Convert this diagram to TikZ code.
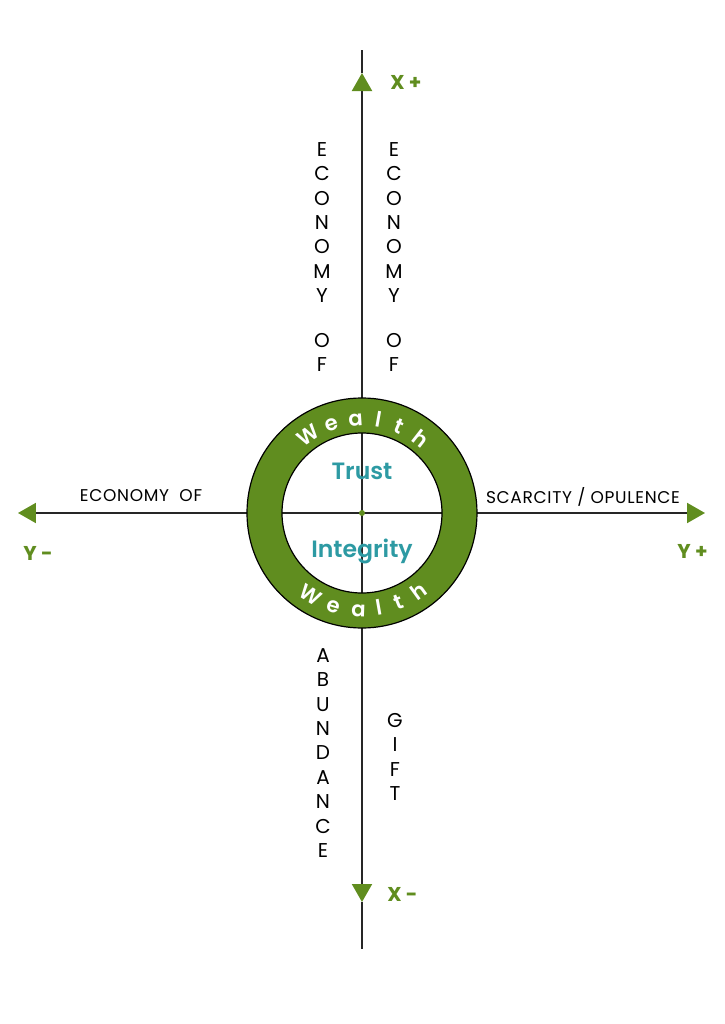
\documentclass[tikz,border=0pt]{standalone}
\usepackage{fontspec}
\setmainfont{Poppins}
\newfontfamily\semifont{Poppins SemiBold}
\usetikzlibrary{arrows.meta}
\definecolor{leaf}{RGB}{96,141,31}
\definecolor{trustblue}{RGB}{45,154,163}

\begin{document}
\begin{tikzpicture}[
        x=0.5pt, y=0.5pt,
        axis/.style={line width=1pt, draw=black!85},
        tip/.style={-{Triangle[length=9pt, width=10pt, color=leaf]}},
        sign/.style={font=\bfseries\fontsize{10}{12}\selectfont, text=leaf, inner sep=0pt},
        hlabel/.style={font=\fontsize{8.5}{10}\selectfont\addfontfeature{LetterSpace=4}, text=black, inner sep=0pt, anchor=base},
        vlabel/.style={font=\fontsize{10}{12.2}\selectfont, text=black, align=center, inner sep=0pt},
        core/.style={font=\semifont\fontsize{11.8}{14}\selectfont, text=trustblue, inner sep=0pt, anchor=base},
        ringtxt/.style={font=\semifont\fontsize{10.6}{13}\selectfont, text=white, inner sep=0pt, anchor=base}
    ]
    \useasboundingbox (-362,-511) rectangle (362,513);

    % axes
    \coordinate (o) at (0,0);
    \coordinate (xtop) at (0,463);
    \coordinate (xp) at (0,440);
    \coordinate (xbot) at (0,-436);
    \coordinate (xm) at (0,-389);
    \coordinate (ym) at (-344,0);
    \coordinate (yp) at (343,0);

    \draw[axis, tip] (o) -- (xp);
    \draw[axis] (xp) -- (xtop);
    \draw[axis, tip] (o) -- (xm);
    \draw[axis] (xm) -- (xbot);
    \draw[axis, tip] (o) -- (ym);
    \draw[axis, tip] (o) -- (yp);

    % ring
    \fill[leaf, even odd rule] (o) circle[radius=115] (o) circle[radius=80];
    \draw[line width=0.6pt] (o) circle[radius=115] (o) circle[radius=80];
    \fill[leaf] (o) circle[radius=3];

    \foreach \ang/\ch [count=\i] in {-35/W, -19/e, -4/a, 10/l, 23/t, 38/h}
        \node[ringtxt, rotate=-\ang] (top\i) at ({90-\ang}:87) {\ch};
    \foreach \ang/\ch [count=\i] in {-32/W, -17/e, -2/a, 10/l, 22/t, 36/h}
        \node[ringtxt, rotate=\ang] (bot\i) at ({270+\ang}:104) {\ch};

    \node[core] (trust) at (0,34) {Trust};
    \node[core] (integrity) at (0,-44) {Integrity};

    % axis ends
    \node[sign, anchor=base west] (xplus) at (28,423) {X +};
    \node[sign, anchor=base west] (xminus) at (25,-388) {X -};
    \node[sign, anchor=base west] (yminus) at (-339,-47) {Y -};
    \node[sign, anchor=base east] (yplus) at (346,-45) {Y +};

    % quadrant labels
    \node[hlabel] (econ) at (-221,12) {ECONOMY\ \ OF};
    \node[hlabel] (scarce) at (221,10) {SCARCITY / OPULENCE};
    \node[vlabel] (econL) at (-40,256) {E\\C\\O\\N\\O\\M\\Y\\[10pt]O\\F};
    \node[vlabel] (econR) at (32,256) {E\\C\\O\\N\\O\\M\\Y\\[10pt]O\\F};
    \node[vlabel] (abund) at (-39,-240) {A\\B\\U\\N\\D\\A\\N\\C\\E};
    \node[vlabel] (gift) at (33,-244) {G\\I\\F\\T};
\end{tikzpicture}
\end{document}
